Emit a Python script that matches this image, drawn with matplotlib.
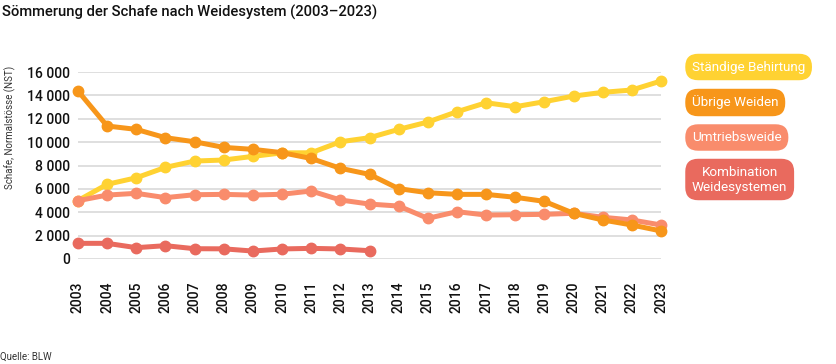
import matplotlib
matplotlib.use("Agg")
import matplotlib.pyplot as plt
from matplotlib.ticker import FuncFormatter

plt.rcParams['font.family'] = ['Roboto', 'DejaVu Sans']

# data (Normalstösse)
years = list(range(2003, 2024))
behirtung = [5000, 6390, 6950, 7840, 8380, 8470, 8780, 9080, 9090, 10030, 10380,
             11090, 11720, 12600, 13370, 13030, 13460, 13940, 14260, 14460, 15230]
uebrige = [14370, 11380, 11090, 10380, 10030, 9550, 9380, 9100, 8600, 7760, 7240,
           6020, 5670, 5530, 5530, 5280, 4930, 3910, 3340, 2910, 2400]
umtrieb = [4990, 5470, 5620, 5250, 5500, 5530, 5470, 5540, 5820, 5050, 4700,
           4530, 3480, 4050, 3760, 3790, 3820, 3910, 3570, 3340, 2910]
kombi_years = list(range(2003, 2014))
kombi = [1340, 1340, 970, 1140, 880, 870, 680, 860, 910, 860, 710]

labels = ["Ständige Behirtung", "Übrige Weiden", "Umtriebsweide",
          "Kombination\nWeidesystemen"]
COLORS = ["#FFD232", "#F7961A", "#F98C6C", "#E96A5E"]

fig = plt.figure(figsize=(8.36, 3.64), dpi=100)
ax = fig.add_axes([78 / 836, 1 - 259 / 364, (661 - 78) / 836, (259 - 72) / 364])

series = [(years, behirtung, 2), (years, umtrieb, 3), (years, uebrige, 4),
          (kombi_years, kombi, 5)]
order = [0, 2, 1, 3]
for (x, y, z), i in zip(series, order):
    ax.plot(x, y, color=COLORS[i], linewidth=3.6, marker="o", markersize=7.5,
            zorder=z, clip_on=False)

ax.set_xlim(2003, 2023)
ax.set_ylim(0, 16000)
ax.set_yticks(range(0, 16001, 2000))
ax.yaxis.set_major_formatter(FuncFormatter(lambda v, p: "{:,.0f}".format(v).replace(",", " ")))
ax.set_xticks(years)
ax.set_xticklabels([str(y) for y in years], rotation=90, va="top")
ax.tick_params(axis="both", length=0, labelsize=10, labelcolor="#111111")
ax.tick_params(axis="y", pad=6)
ax.tick_params(axis="x", pad=16)
for lab in ax.get_xticklabels() + ax.get_yticklabels():
    lab.set_fontweight("medium")
ax.grid(axis="y", color="#d9d9d9", linewidth=1.2)
ax.set_axisbelow(True)
for s in ax.spines.values():
    s.set_visible(False)

fig.text(2 / 836, 1 - 12 / 364, "Sömmerung der Schafe nach Weidesystem (2003–2023)",
         fontsize=10.6, fontweight="medium", va="center", ha="left", color="#111111")
fig.text(10 / 836, 1 - 66 / 364, "Schafe, Normalstösse (NST)", rotation=90,
         fontsize=7, va="top", ha="center", color="#333333")
fig.text(0, 1 - 357 / 364, "Quelle: BLW", fontsize=7, va="center", ha="left",
         color="#333333")

# legend pills
pill_y = [67, 102.5, 137.5, 179.5]
for lab, c, yy in zip(labels, COLORS, pill_y):
    fig.text(692 / 836, 1 - yy / 364, lab, fontsize=9.7, color="white",
             ha="left", va="center", multialignment="center",
             bbox=dict(boxstyle="round,pad=0.5,rounding_size=0.95", fc=c, ec="none"))

fig.savefig("out.png", dpi=100)
